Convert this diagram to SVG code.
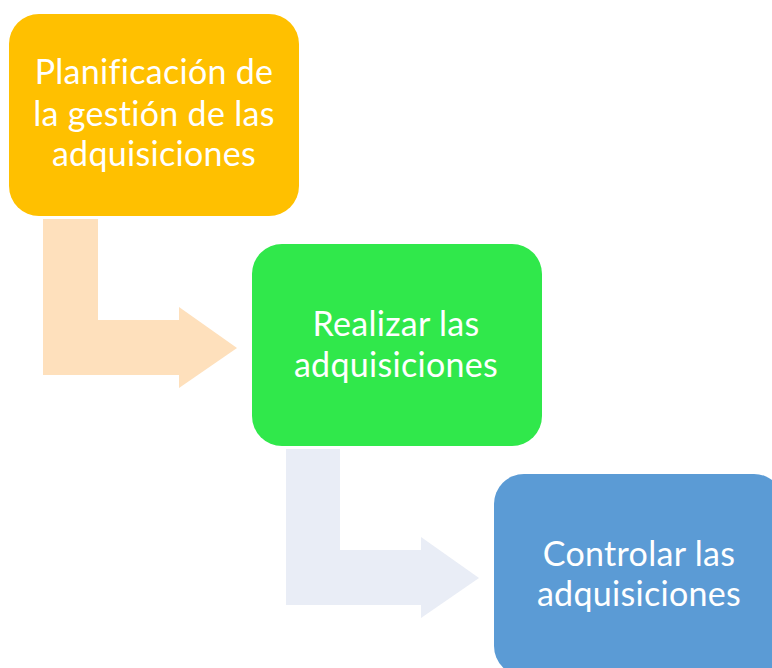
<svg xmlns="http://www.w3.org/2000/svg" width="772" height="668" viewBox="0 0 772 668">
<style>
.lbl{font-family:Lato,"Open Sans","Liberation Sans",sans-serif;font-size:34px;fill:#ffffff;text-anchor:middle;font-variant-ligatures:none;letter-spacing:0.3px}
</style>
<rect width="772" height="668" fill="#ffffff"/>
<g id="connectors">
<path d="M43,219 H98 V320 H179 V307 L237,348 L179,388 V375 H43 Z" fill="#FEE0BC"/>
<path d="M286,449 H340 V550 H421 V537 L479,578 L421,618 V605 H286 Z" fill="#E9EDF6"/>
</g>
<g id="node1">
<rect x="9" y="14" width="290" height="202" rx="30" fill="#FFC000"/>
<text class="lbl" x="154" y="84">Planificación de</text>
<text class="lbl" x="154" y="126">la gestión de las</text>
<text class="lbl" x="154" y="166">adquisiciones</text>
</g>
<g id="node2">
<rect x="252" y="244" width="290" height="202" rx="30" fill="#30E84B"/>
<text class="lbl" x="396" y="336">Realizar las</text>
<text class="lbl" x="396" y="377">adquisiciones</text>
</g>
<g id="node3">
<rect x="494" y="474" width="290" height="202" rx="30" fill="#5B9BD5"/>
<text class="lbl" x="639" y="566">Controlar las</text>
<text class="lbl" x="639" y="606">adquisiciones</text>
</g>
</svg>
